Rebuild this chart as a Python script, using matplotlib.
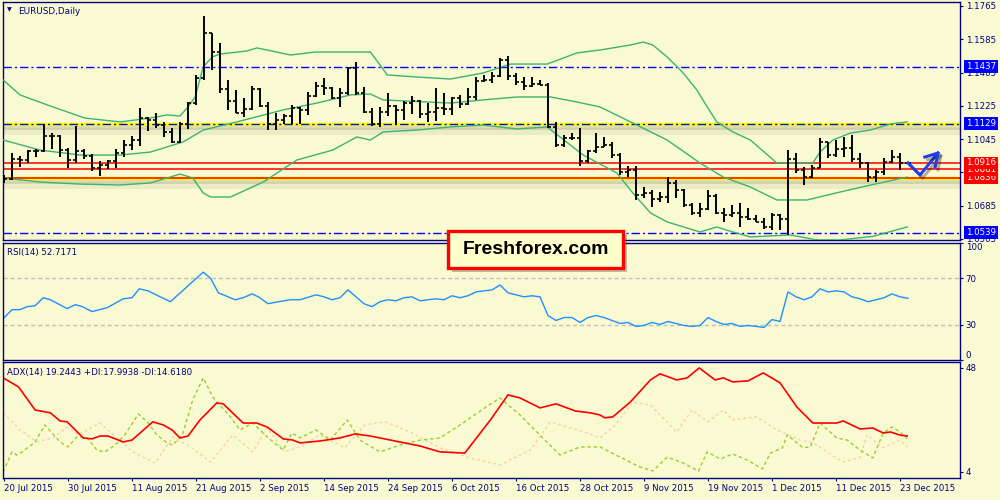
"""EURUSD daily chart (MT4 style): OHLC bars + Bollinger bands, RSI(14), ADX(14)."""
import matplotlib
matplotlib.use("Agg")
import matplotlib.pyplot as plt
import matplotlib.patheffects as pe
from matplotlib.patches import Rectangle
from matplotlib.transforms import blended_transform_factory
import numpy as np

plt.rcParams.update({"font.family": ["DejaVu Sans"], "font.size": 6.2})

BG, NAVY = "#FAFAD2", "#000080"
BAND, BLUE, RED = "#3CB371", "#0000FF", "#FF0000"

# --- daily bars, 20 Jul 2015 .. 24 Dec 2015 ---------------------------------
OPEN = [1.0826, 1.0831, 1.0937, 1.0930, 1.0983, 1.0982, 1.1062, 1.1063, 1.0988, 1.0932,
        1.0983, 1.0955, 1.0887, 1.0906, 1.0925, 1.0970, 1.1015, 1.1040, 1.1160, 1.1150,
        1.1120, 1.1085, 1.1030, 1.1125, 1.1240, 1.1376, 1.1619, 1.1516, 1.1316, 1.1251,
        1.1186, 1.1210, 1.1316, 1.1225, 1.1125, 1.1150, 1.1172, 1.1212, 1.1200, 1.1280,
        1.1335, 1.1320, 1.1265, 1.1295, 1.1430, 1.1295, 1.1192, 1.1125, 1.1190, 1.1222,
        1.1200, 1.1240, 1.1250, 1.1180, 1.1190, 1.1215, 1.1210, 1.1265, 1.1235, 1.1275,
        1.1360, 1.1365, 1.1385, 1.1473, 1.1385, 1.1352, 1.1330, 1.1345, 1.1340, 1.1110,
        1.1015, 1.1050, 1.1050, 1.0925, 1.0980, 1.1005, 1.1015, 1.0960, 1.0865, 1.0880,
        1.0745, 1.0755, 1.0722, 1.0730, 1.0810, 1.0770, 1.0690, 1.0645, 1.0665, 1.0740,
        1.0645, 1.0635, 1.0645, 1.0625, 1.0612, 1.0598, 1.0570, 1.0635, 1.0612, 1.0940,
        1.0880, 1.0840, 1.0890, 1.1028, 1.0960, 1.0990, 1.0995, 1.0940, 1.0915, 1.0838,
        1.0867, 1.0920, 1.0950, 1.0916]
HIGH = [1.0850, 1.0968, 1.0952, 1.0988, 1.0990, 1.1128, 1.1078, 1.1066, 1.0996, 1.1114,
        1.0989, 1.0967, 1.0928, 1.0930, 1.0992, 1.1040, 1.1060, 1.1214, 1.1162, 1.1186,
        1.1138, 1.1105, 1.1138, 1.1248, 1.1392, 1.1711, 1.1620, 1.1565, 1.1365, 1.1311,
        1.1268, 1.1332, 1.1321, 1.1246, 1.1186, 1.1181, 1.1230, 1.1219, 1.1300, 1.1354,
        1.1376, 1.1327, 1.1321, 1.1435, 1.1462, 1.1327, 1.1213, 1.1219, 1.1295, 1.1232,
        1.1251, 1.1278, 1.1257, 1.1240, 1.1321, 1.1295, 1.1273, 1.1284, 1.1321, 1.1381,
        1.1392, 1.1408, 1.1484, 1.1495, 1.1403, 1.1381, 1.1381, 1.1365, 1.1349, 1.1138,
        1.1068, 1.1078, 1.1105, 1.0986, 1.1078, 1.1057, 1.1030, 1.0970, 1.0900, 1.0900,
        1.0786, 1.0770, 1.0759, 1.0840, 1.0824, 1.0775, 1.0700, 1.0700, 1.0770, 1.0748,
        1.0673, 1.0689, 1.0700, 1.0673, 1.0635, 1.0619, 1.0646, 1.0640, 1.0986, 1.0970,
        1.0895, 1.0905, 1.1051, 1.1030, 1.1040, 1.1057, 1.1068, 1.0970, 1.0921, 1.0878,
        1.0943, 1.0986, 1.0970, 1.0920]
LOW = [1.0808, 1.0822, 1.0893, 1.0918, 1.0951, 1.0974, 1.0993, 1.0951, 1.0887, 1.0915,
       1.0936, 1.0875, 1.0848, 1.0886, 1.0890, 1.0950, 1.0985, 1.1010, 1.1091, 1.1105,
       1.1057, 1.1024, 1.1024, 1.1100, 1.1232, 1.1365, 1.1419, 1.1295, 1.1203, 1.1186,
       1.1165, 1.1205, 1.1219, 1.1094, 1.1094, 1.1127, 1.1127, 1.1127, 1.1176, 1.1273,
       1.1284, 1.1262, 1.1219, 1.1284, 1.1284, 1.1186, 1.1116, 1.1111, 1.1170, 1.1121,
       1.1148, 1.1181, 1.1159, 1.1138, 1.1143, 1.1176, 1.1176, 1.1213, 1.1230, 1.1257,
       1.1354, 1.1349, 1.1381, 1.1365, 1.1338, 1.1311, 1.1327, 1.1338, 1.1105, 1.1000,
       1.1003, 1.1040, 1.0900, 1.0916, 1.0970, 1.1003, 1.0943, 1.0851, 1.0840, 1.0716,
       1.0727, 1.0678, 1.0705, 1.0700, 1.0727, 1.0678, 1.0635, 1.0624, 1.0663, 1.0640,
       1.0597, 1.0624, 1.0570, 1.0608, 1.0597, 1.0560, 1.0554, 1.0554, 1.0525, 1.0862,
       1.0797, 1.0835, 1.0889, 1.0943, 1.0948, 1.0948, 1.0921, 1.0889, 1.0813, 1.0813,
       1.0851, 1.0916, 1.0878, 1.0912]
CLOSE = [1.0831, 1.0937, 1.0930, 1.0983, 1.0982, 1.1062, 1.1063, 1.0988, 1.0932, 1.0983,
         1.0955, 1.0887, 1.0906, 1.0925, 1.0970, 1.1015, 1.1040, 1.1160, 1.1150, 1.1120,
         1.1085, 1.1030, 1.1125, 1.1240, 1.1376, 1.1619, 1.1516, 1.1316, 1.1251, 1.1186,
         1.1210, 1.1316, 1.1225, 1.1125, 1.1150, 1.1172, 1.1212, 1.1200, 1.1280, 1.1335,
         1.1320, 1.1265, 1.1295, 1.1430, 1.1295, 1.1192, 1.1125, 1.1190, 1.1222, 1.1200,
         1.1240, 1.1250, 1.1180, 1.1190, 1.1215, 1.1210, 1.1265, 1.1235, 1.1275, 1.1360,
         1.1365, 1.1385, 1.1473, 1.1385, 1.1352, 1.1330, 1.1345, 1.1340, 1.1110, 1.1015,
         1.1050, 1.1050, 1.0925, 1.0980, 1.1005, 1.1015, 1.0960, 1.0865, 1.0880, 1.0745,
         1.0755, 1.0722, 1.0730, 1.0810, 1.0770, 1.0690, 1.0645, 1.0665, 1.0740, 1.0645,
         1.0635, 1.0645, 1.0625, 1.0612, 1.0598, 1.0570, 1.0635, 1.0612, 1.0940, 1.0880,
         1.0840, 1.0890, 1.1028, 1.0960, 1.0990, 1.0995, 1.0940, 1.0915, 1.0838, 1.0867,
         1.0920, 1.0950, 1.0916, 1.0916]

DATE_IDX = [0, 8, 16, 24, 32, 40, 48, 56, 64, 72, 80, 88, 96, 104, 112]
DATE_LBL = ["20 Jul 2015", "30 Jul 2015", "11 Aug 2015", "21 Aug 2015", "2 Sep 2015",
            "14 Sep 2015", "24 Sep 2015", "6 Oct 2015", "16 Oct 2015", "28 Oct 2015",
            "9 Nov 2015", "19 Nov 2015", "1 Dec 2015", "11 Dec 2015", "23 Dec 2015"]

# --- Bollinger bands (read as vertices: bar index, price) --------------------
BB_UP_X = [-0.1, 2, 5.8, 10.1, 14.5, 18.3, 20.4, 22, 23, 23.9, 24.9, 26, 27, 30.4, 31.6,
           32.9, 35.8, 38.9, 42.4, 45.8, 47, 47.9, 51.6, 55.8, 59.9, 63.3, 67.9, 71.6, 74.5,
           78.3, 79.9, 81.1, 82.9, 84.9, 86.6, 87.9, 89.1, 91.1, 93.3, 96.6, 101.1, 102,
           103.6, 105.8, 108.3, 110.8, 112.9]
BB_UP_Y = [1.1365, 1.1284, 1.1224, 1.1159, 1.1138, 1.1159, 1.1176, 1.1170, 1.1219, 1.1273,
           1.1435, 1.1489, 1.1505, 1.1522, 1.1538, 1.1527, 1.1500, 1.1516, 1.1516, 1.1516,
           1.1446, 1.1392, 1.1381, 1.1370, 1.1403, 1.1451, 1.1451, 1.1511, 1.1527, 1.1554,
           1.1570, 1.1554, 1.1489, 1.1403, 1.1311, 1.1219, 1.1138, 1.1084, 1.1040, 1.0916,
           1.0916, 1.0975, 1.1040, 1.1078, 1.1094, 1.1127, 1.1138]
BB_MID_X = [-0.1, 4.5, 9.5, 14.5, 18.3, 22.4, 24.9, 29.1, 34.9, 39.1, 43.3, 45.8, 47.4,
            55.8, 59.9, 64.1, 68.3, 71.6, 74.5, 78.6, 82.9, 87, 89.9, 93.3, 96.6, 100.4,
            104.5, 109.5, 112.9]
BB_MID_Y = [1.1040, 1.0986, 1.0959, 1.0959, 1.0975, 1.1030, 1.1094, 1.1138, 1.1203, 1.1240,
            1.1284, 1.1289, 1.1257, 1.1240, 1.1257, 1.1273, 1.1273, 1.1246, 1.1219, 1.1132,
            1.1040, 1.0916, 1.0840, 1.0786, 1.0716, 1.0716, 1.0759, 1.0808, 1.0840]
BB_LOW_X = [-0.1, 4.5, 9.5, 14.5, 18.3, 22, 23.6, 24.9, 25.8, 28.3, 32.4, 36.6, 41.1, 44.1,
            45.8, 47.4, 51.6, 55.8, 59.9, 64.1, 67.9, 69.5, 72.4, 76.6, 78.6, 80.8, 82.9, 87,
            89.1, 91.1, 93.3, 98.3, 101.6, 104.5, 108.6, 112.9]
BB_LOW_Y = [1.0835, 1.0813, 1.0802, 1.0797, 1.0808, 1.0856, 1.0835, 1.0754, 1.0732, 1.0732,
            1.0813, 1.0932, 1.0986, 1.1057, 1.1040, 1.1084, 1.1094, 1.1111, 1.1121, 1.1100,
            1.1111, 1.1057, 1.0959, 1.0862, 1.0754, 1.0646, 1.0597, 1.0543, 1.0570, 1.0543,
            1.0516, 1.0527, 1.0500, 1.0500, 1.0519, 1.0570]

# horizontal levels
LEVELS_BLUE = [1.1437, 1.1129, 1.0539]
LEVELS_RED = [1.0836, 1.0881, 1.0916]
LEVEL_YELLOW = [1.1129, 1.0836]
PRICE_TICKS = [1.1765, 1.1585, 1.1405, 1.1225, 1.1045, 1.0865, 1.0685, 1.0505]

# --- RSI(14) -----------------------------------------------------------------
RSI_X = [-0.1, 1, 2, 2.9, 3.9, 4.9, 5.8, 7.9, 8.9, 9.8, 11, 12.9, 14.9, 16, 16.9, 18, 20.8,
         24.9, 25.8, 26.8, 28.9, 29.9, 31, 31.8, 33, 34.3, 35.8, 37] + list(range(39, 114))
RSI_Y = [35.4, 43.0, 43.0, 45.6, 46.4, 53.2, 51.5, 43.9, 47.3, 45.6, 41.4, 44.7, 52.3, 53.2,
         60.8, 59.1, 49.8, 75.1, 70.0, 57.4, 51.5, 53.2, 56.5, 54.0, 48.1, 49.8, 51.5, 51.5,
         55.7, 54.0, 51.5, 53.2, 59.9, 54.0, 48.1, 45.6, 49.8, 51.5, 50.6, 53.2, 54.0, 50.6,
         51.5, 52.3, 51.5, 54.9, 53.2, 54.9, 58.2, 59.1, 59.9, 64.1, 57.4, 55.7, 54.0, 54.9,
         54.0, 38.0, 33.8, 36.3, 36.3, 32.1, 36.3, 38.0, 36.3, 33.8, 31.2, 32.1, 28.7, 29.5,
         32.1, 30.4, 32.9, 31.2, 29.5, 28.7, 29.5, 36.3, 32.9, 30.4, 31.2, 28.7, 29.5, 28.7,
         27.8, 34.6, 32.9, 58.2, 54.0, 51.5, 54.0, 60.8, 58.2, 59.1, 58.2, 54.0, 52.3, 49.8,
         51.5, 53.2, 56.5, 54.0, 52.7]
RSI_LEVELS = [70, 30]

# --- ADX(14), +DI, -DI -------------------------------------------------------
ADX_X = [-0.1, 1.8, 3.9, 5.8, 7, 7.9, 9.9, 11, 12, 13, 14.9, 16, 18.6, 19.9, 21, 22, 23,
         24.5, 26.6, 27.4, 29.9, 31.6, 32.9, 34.9, 36.1, 37, 39.5, 42, 43.9, 45.8, 48.3, 52,
         54.5, 57.6, 60.8, 63, 64.5, 67, 69, 71.4, 73.3, 74.5, 75.1, 76.1, 78.3, 80.8, 82,
         84.1, 85.4, 86.9, 88.9, 89.9, 91.1, 93, 94.9, 97, 99.1, 101.1, 104.1, 104.9, 107,
         108.6, 109.9, 110.8, 112, 112.9]
ADX_Y = [43.8, 40.0, 30.2, 29.0, 25.6, 25.2, 18.4, 18.0, 19.2, 19.2, 16.7, 17.5, 25.2, 23.9,
         21.8, 18.4, 19.2, 26.0, 33.2, 32.8, 24.7, 24.7, 23.0, 18.0, 17.5, 16.3, 17.1, 18.4,
         20.1, 19.2, 17.5, 15.0, 12.5, 12.0, 26.0, 36.6, 35.3, 31.1, 32.8, 29.8, 29.0, 28.1,
         26.9, 27.3, 33.6, 42.9, 45.5, 42.9, 43.8, 48.0, 42.9, 43.8, 42.1, 42.5, 45.9, 41.7,
         31.5, 24.7, 24.7, 25.6, 22.2, 22.6, 20.5, 20.9, 19.6, 19.2]
PDI_X = [-0.1, 1, 1.6, 2.3, 3.9, 5.1, 7, 8, 9.1, 10.4, 11.6, 12.6, 13.9, 15.1, 16.8, 17.9,
         19.1, 20.4, 21.1, 22.3, 23.6, 24.9, 26.1, 28.3, 29.5, 31.1, 32.9, 34.9, 36, 37, 39,
         40.8, 42.9, 44.5, 47, 49.5, 52, 54.5, 57, 60.1, 62, 64.5, 67.6, 69.5, 72, 74.5, 77,
         79.5, 81.1, 82.9, 84.9, 86.8, 87.9, 89.5, 91.1, 92.9, 94.8, 95.8, 97.3, 97.9, 99.9,
         100.8, 102, 104.1, 105.4, 107, 108.6, 109.9, 111, 112, 112.9]
PDI_Y = [4.0, 12.5, 11.2, 12.5, 16.7, 23.9, 16.7, 14.6, 18.8, 18.4, 13.3, 12.5, 15.4, 19.7,
         28.5, 25.2, 19.7, 16.3, 15.4, 19.7, 34.5, 43.8, 35.7, 27.3, 21.8, 24.7, 18.8, 13.3,
         20.5, 18.4, 21.8, 17.5, 26.0, 17.5, 12.5, 15.4, 17.5, 18.4, 23.9, 31.1, 35.3, 28.1,
         17.5, 11.2, 14.6, 14.6, 10.3, 6.1, 4.4, 10.3, 7.8, 4.4, 12.5, 9.5, 11.6, 9.1, 5.3,
         12.0, 14.2, 19.7, 14.2, 14.6, 24.7, 18.4, 17.5, 13.3, 9.9, 20.5, 23.0, 20.9, 18.0]
MDI_X = [-0.1, 2, 4.1, 6.1, 7.9, 9.3, 12, 14.1, 16.1, 18.9, 21.1, 23.5, 25.8, 28.6, 31.1,
         32.9, 35.1, 37, 39.5, 42.6, 45.1, 47.6, 50.8, 54.5, 58.3, 62, 65.8, 68.3, 70.8, 72.6,
         74.5, 76.4, 78.6, 80.8, 84.1, 86, 88, 89.9, 91.1, 94.1, 96.6, 99.5, 101.1, 104.9,
         107, 107.9, 109.9, 112, 112.9]
MDI_Y = [29.0, 21.8, 16.7, 18.4, 23.0, 19.7, 24.7, 18.4, 12.5, 7.8, 18.8, 14.2, 8.2, 19.7,
         12.5, 22.6, 12.5, 14.6, 19.7, 14.2, 23.9, 25.2, 20.9, 14.2, 9.9, 7.0, 13.3, 25.2,
         22.6, 20.9, 18.4, 23.9, 33.6, 32.3, 20.9, 30.2, 25.2, 30.2, 26.0, 27.3, 21.8, 17.5,
         16.3, 8.2, 10.3, 19.7, 14.2, 17.5, 14.6]

W, H = 1000, 500   # figure size in pixels


def px_axes(fig, top, bottom, left=3, right=960):
    return fig.add_axes([left / W, 1 - bottom / H, (right - left) / W, (bottom - top) / H])


def style(ax):
    ax.set_facecolor(BG)
    for s in ax.spines.values():
        s.set_color(NAVY)
        s.set_linewidth(1.0)
    ax.tick_params(left=False, labelleft=False, bottom=False, labelbottom=False,
                   right=True, labelright=True, direction="out", length=2.5, width=0.8,
                   color=NAVY, labelcolor=NAVY, pad=1.5, labelsize=6.2)
    ax.set_xlim(-0.125, 119.5)


def main():
    fig = plt.figure(figsize=(W / 100, H / 100), dpi=100, facecolor=BG)
    ax = px_axes(fig, 2, 240)
    ar = px_axes(fig, 243, 360)
    ad = px_axes(fig, 362, 478)
    for a in (ax, ar, ad):
        style(a)

    # ---- main price panel
    ax.set_ylim(1.04995, 1.17866)
    ax.set_yticks(PRICE_TICKS)
    ax.set_yticklabels([f"{p:.4f}" for p in PRICE_TICKS])

    dashdot = (0, (6, 2.2, 1.5, 2.2))
    shadow = [pe.SimpleLineShadow(offset=(0, -2.5), shadow_color="#6a6a50", alpha=0.22,
                                  linewidth=4),
              pe.SimpleLineShadow(offset=(0, -5), shadow_color="#6a6a50", alpha=0.10,
                                  linewidth=5),
              pe.Normal()]
    for lv in LEVEL_YELLOW:
        ax.axhline(lv, color="#FFFF00", lw=2.4, zorder=1, path_effects=shadow)
    for lv in LEVELS_RED:
        ax.axhline(lv, color=RED, lw=1.1, zorder=2)
    for lv in LEVELS_BLUE:
        ax.axhline(lv, color=BLUE, lw=1.0, ls=dashdot, zorder=2)

    ax.plot(BB_UP_X, BB_UP_Y, color=BAND, lw=1, zorder=3)
    ax.plot(BB_MID_X, BB_MID_Y, color=BAND, lw=1, zorder=3)
    ax.plot(BB_LOW_X, BB_LOW_Y, color=BAND, lw=1, zorder=3)

    idx = np.arange(len(OPEN))
    ax.vlines(idx, LOW, HIGH, color="black", lw=1.4, zorder=4)
    ax.hlines(OPEN, idx - 0.42, idx, color="black", lw=1.2, zorder=4)
    ax.hlines(CLOSE, idx, idx + 0.42, color="black", lw=1.2, zorder=4)

    # price boxes on the right scale (drawn bottom-up so the upper one sits on top)
    tr = blended_transform_factory(ax.transAxes, ax.transData)
    boxes = [(lv, BLUE) for lv in LEVELS_BLUE] + [(lv, RED) for lv in LEVELS_RED]
    for k, (lv, col) in enumerate(boxes):
        ax.text(1.0065, lv, f"{lv:.4f}", transform=tr, color="white", fontsize=6.2,
                ha="left", va="center", clip_on=False, zorder=20 + k,
                bbox=dict(boxstyle="square,pad=0.2", fc=col, ec="none"))

    # hand-drawn forecast arrow
    arrow_fx = [pe.SimpleLineShadow(offset=(2, -2), alpha=0.3), pe.Normal()]
    ax.plot([113, 114.5, 116.75], [1.0916, 1.0851, 1.0970], color="#1F3FEF", lw=2.2,
            solid_joinstyle="miter", clip_on=False, zorder=8, path_effects=arrow_fx)
    ax.plot([115.1, 116.75, 116.4], [1.0948, 1.0970, 1.0894], color="#1F3FEF", lw=2.2,
            clip_on=False, zorder=8, path_effects=arrow_fx)

    ax.text(0.0157, 0.981, "EURUSD,Daily", transform=ax.transAxes, color=NAVY,
            fontsize=6.4, va="top", ha="left")
    ax.text(0.0045, 0.979, "\u25BC", transform=ax.transAxes, color=NAVY, fontsize=4.5,
            va="top", ha="left")

    # ---- RSI panel
    ar.set_ylim(0, 100)
    for lv in RSI_LEVELS:
        ar.axhline(lv, color="#C0C0C0", lw=1, ls=(0, (3, 2)))
    ar.plot(RSI_X, RSI_Y, color="#1E90FF", lw=1)
    ar.set_yticks([0, 30, 70, 100])
    ar.set_yticklabels(["0", "30", "70", "100"])
    tl = ar.get_yticklabels()
    tl[0].set_va("bottom")
    tl[-1].set_va("top")
    ar.text(0.0045, 0.955, "RSI(14) 52.7171", transform=ar.transAxes, color=NAVY,
            va="top", ha="left", fontsize=6.2)

    # ---- ADX panel
    ad.set_ylim(1.46, 50.5)
    ad.plot(MDI_X, MDI_Y, color="#F5CFAF", lw=1, ls=(0, (2, 2)))
    ad.plot(PDI_X, PDI_Y, color="#9ACD32", lw=1, ls=(0, (2.5, 2)))
    ad.plot(ADX_X, ADX_Y, color=RED, lw=1.2)
    ad.set_yticks([4, 48])
    ad.text(0.0045, 0.948, "ADX(14) 19.2443 +DI:17.9938 -DI:14.6180", transform=ad.transAxes,
            color=NAVY, va="top", ha="left", fontsize=6.2)
    ad.tick_params(bottom=True, labelbottom=True)
    ad.set_xticks(DATE_IDX)
    ad.set_xticklabels(DATE_LBL, ha="left")

    # ---- watermark box
    box = Rectangle((448 / W, 1 - 268 / H), 175 / W, 37 / H, transform=fig.transFigure,
                    fc="#FFFFCC", ec=RED, lw=2.4, zorder=30,
                    path_effects=[pe.SimplePatchShadow(offset=(3, -3), alpha=0.35),
                                  pe.Normal()])
    fig.add_artist(box)
    fig.text(535.5 / W, 1 - 250 / H, "Freshforex.com", ha="center", va="center",
             fontsize=14, weight="bold", family="Liberation Sans", color="black", zorder=31)

    fig.savefig("out.png", dpi=100, facecolor=BG)
    plt.close(fig)


if __name__ == "__main__":
    main()
